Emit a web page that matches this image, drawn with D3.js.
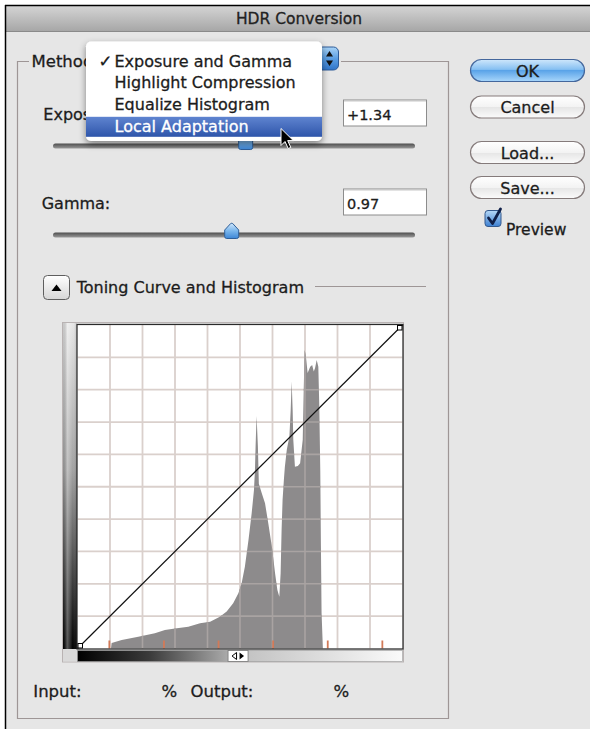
<!DOCTYPE html>
<html><head><meta charset="utf-8">
<script src="https://cdn.jsdelivr.net/npm/d3@7"></script>
<style>html,body{margin:0;padding:0;background:#fff;} svg{display:block;font-family:"DejaVu Sans",sans-serif;}</style>
</head><body>
<svg id="c" width="590" height="729"></svg>
<script>
// ---------- data ----------
const titleText = "HDR Conversion";
const methodItems = ["Exposure and Gamma", "Highlight Compression", "Equalize Histogram", "Local Adaptation"];
const checkedItem = 0;
const highlightedItem = 3;
const exposureValue = 1.34;
const exposureDomain = [-20, 20];
const gammaValue = 0.97;
const gammaDomain = [0.1, 10];
const buttonLabels = ["OK", "Cancel", "Load...", "Save..."];
const gridTicks = [0, 10, 20, 30, 40, 50, 60, 70, 80, 90, 100];
const stopTicks = [9.8, 26.6, 43.4, 60.2, 77.0, 93.8];
const curveIn = [0, 100];
const curveOut = [0, 100];
const gradientHandle = 49.4;
// histogram: input level (%) and bar height (%)
const histX = [10.3,10.5,13.6,18.7,23.8,26.9,30.0,34.1,37.7,40.8,43.8,45.9,47.9,49.5,50.5,51.5,52.6,53.6,54.3,54.6,54.8,55.1,55.5,55.8,56.7,57.7,58.7,59.8,60.8,61.5,62.1,62.5,62.8,63.1,63.5,63.8,64.4,65.2,65.6,65.9,66.2,66.4,66.9,67.8,68.5,69.3,69.6,69.9,70.2,70.4,70.8,71.6,72.2,72.7,73.1,73.6,74.1,74.4,74.7,74.9,75.1,75.5];
const histH = [0,1.7,2.6,3.6,4.7,5.7,6.2,6.7,7.8,8.3,9.8,11.4,14.0,17.1,20.2,25.3,33.5,41.9,49.0,55.2,62.6,71.9,62.6,50.9,48.0,44.9,38.7,31.5,23.2,18.1,16.0,23.3,36.6,45.9,52.1,56.1,61.4,65.5,73.7,82.5,73.7,64.5,56.2,56.4,57.3,64.5,79.9,92.3,90.7,89.2,85.2,87.1,87.6,85.6,86.7,89.2,87.1,74.7,55.2,31.7,11.0,0];

// ---------- setup ----------
const svg = d3.select("#c");
const defs = svg.append("defs");
function grad(id, stops, x2 = 0, y2 = 1) {
  const g = defs.append("linearGradient").attr("id", id)
    .attr("x1", 0).attr("y1", 0).attr("x2", x2).attr("y2", y2);
  stops.forEach(([o, c, op]) => g.append("stop").attr("offset", o).attr("stop-color", c).attr("stop-opacity", op == null ? 1 : op));
}
grad("titleG", [[0, "#d4d4d4"], [1, "#a6a6a6"]]);
grad("blueG", [[0, "#cfe7fb"], [0.45, "#86c0f2"], [0.5, "#5aa3e8"], [1, "#a8d6fb"]]);
grad("whiteG", [[0, "#ffffff"], [0.5, "#f3f3f3"], [0.52, "#e6e6e6"], [1, "#fbfbfb"]]);
grad("trackG", [[0, "#4e4e4e"], [1, "#9a9a9a"]]);
grad("thumbG", [[0, "#cfe6fb"], [0.5, "#7ab6ec"], [1, "#3d86d6"]]);
grad("popG", [[0, "#a9d3f6"], [0.5, "#5b9fe4"], [1, "#2f74c8"]]);
grad("hiG", [[0, "#5f84d0"], [1, "#2e55aa"]]);
grad("discG", [[0, "#ffffff"], [1, "#d6d6d6"]]);
grad("leftBarG", [[0, "#e6e6e6"], [0.45, "#a2a2a2"], [0.8, "#3a3a3a"], [1, "#000000"]]);
grad("leftShadeG", [[0, "#000", 0.12], [0.3, "#fff", 0.35], [0.7, "#fff", 0.0], [1, "#000", 0.2]], 1, 0);
grad("botBarG", [[0, "#000000"], [0.22, "#3a3a3a"], [0.46, "#a9a9a9"], [0.53, "#c4c4c4"], [1, "#fafafa"]], 1, 0);
grad("checkG", [[0, "#b5d8f7"], [1, "#3d80d2"]]);
const sh = defs.append("filter").attr("id", "shadow").attr("x", "-20%").attr("y", "-20%").attr("width", "140%").attr("height", "150%");
sh.append("feDropShadow").attr("dx", 0).attr("dy", 3).attr("stdDeviation", 3.5).attr("flood-color", "#000").attr("flood-opacity", 0.45);

const txtCol = "#1c1c1c";
const boxLine = "#9e9696";

// ---------- window ----------
svg.append("rect").attr("x", 5).attr("y", 5).attr("width", 585).attr("height", 724).attr("fill", "#e6e6e6");
svg.append("rect").attr("x", 6).attr("y", 6).attr("width", 584).attr("height", 25.5).attr("fill", "url(#titleG)");
svg.append("line").attr("x1", 6).attr("x2", 590).attr("y1", 31.5).attr("y2", 31.5).attr("stroke", "#8a8a8a");
svg.append("line").attr("x1", 5).attr("x2", 590).attr("y1", 5.5).attr("y2", 5.5).attr("stroke", "#000").attr("stroke-width", 1.5);
svg.append("line").attr("x1", 5.5).attr("x2", 5.5).attr("y1", 5).attr("y2", 729).attr("stroke", "#000").attr("stroke-width", 1.5);
svg.append("text").attr("x", 299).attr("y", 23.5).attr("text-anchor", "middle").attr("font-size", 15.5).attr("fill", "#222").text(titleText);

// ---------- group box ----------
const gb = svg.append("g").attr("fill", "none").attr("stroke", boxLine).attr("stroke-width", 1.2);
gb.append("path").attr("d", "M29,61.5 H17.5 V718.5 H448.5 V61.5 H341");

svg.append("text").attr("x", 31.5).attr("y", 66.7).attr("font-size", 16.5).attr("fill", txtCol).text("Method:");

// ---------- sliders & inputs ----------
const trackX = [53, 415];
const exposureScale = d3.scaleLinear().domain(exposureDomain).range([60, 408]);
const gammaScale = d3.scaleLog().domain(gammaDomain).range([60, 408]);
function slider(cy, cx) {
  svg.append("rect").attr("x", trackX[0]).attr("y", cy - 2.5).attr("width", trackX[1] - trackX[0]).attr("height", 5)
    .attr("rx", 2.5).attr("fill", "url(#trackG)");
  const top = cy - 12, bot = cy + 3.5;
  svg.append("path").attr("d", `M${cx - 7},${bot - 2} Q${cx - 7},${bot} ${cx - 5},${bot} H${cx + 5} Q${cx + 7},${bot} ${cx + 7},${bot - 2} V${top + 7} L${cx + 1},${top + 0.5} Q${cx},${top} ${cx - 1},${top + 0.5} L${cx - 7},${top + 7} Z`)
    .attr("fill", "url(#thumbG)").attr("stroke", "#2f5f99").attr("stroke-width", 1);
}
function inputBox(y, val) {
  svg.append("rect").attr("x", 343.5).attr("y", y).attr("width", 83).attr("height", 26).attr("fill", "#fff")
    .attr("stroke", "#8c8c8c").attr("stroke-width", 1);
  svg.append("line").attr("x1", 344).attr("x2", 426).attr("y1", y + 1).attr("y2", y + 1).attr("stroke", "#c8c8c8");
  svg.append("text").attr("x", 347).attr("y", y + 19.5).attr("font-size", 14.5).attr("fill", txtCol).text(val);
}
svg.append("text").attr("x", 43.3).attr("y", 120).attr("font-size", 16).attr("fill", txtCol).text("Exposure:");
inputBox(100, (exposureValue > 0 ? "+" : "") + exposureValue.toFixed(2));
slider(146, exposureScale(exposureValue));
svg.append("text").attr("x", 41.7).attr("y", 209).attr("font-size", 16).attr("fill", txtCol).text("Gamma:");
inputBox(189, gammaValue.toFixed(2));
slider(235, gammaScale(gammaValue));

// ---------- buttons ----------
const btnY = [59.5, 96, 141.5, 176.5];
buttonLabels.forEach((lab, i) => {
  svg.append("rect").attr("x", 470.5).attr("y", btnY[i]).attr("width", 114).attr("height", 22).attr("rx", 11)
    .attr("fill", i === 0 ? "url(#blueG)" : "url(#whiteG)")
    .attr("stroke", i === 0 ? "#44679c" : "#857b7b").attr("stroke-width", 1.2);
  svg.append("text").attr("x", 527.5).attr("y", btnY[i] + 17).attr("text-anchor", "middle").attr("font-size", 16)
    .attr("fill", txtCol).text(lab);
});
svg.append("rect").attr("x", 485).attr("y", 210.5).attr("width", 16).attr("height", 16).attr("rx", 3)
  .attr("fill", "url(#checkG)").attr("stroke", "#35598c");
svg.append("path").attr("d", "M488.5,218 L492.5,223.5 L500.5,209").attr("fill", "none").attr("stroke", "#0f1f48")
  .attr("stroke-width", 2.8).attr("stroke-linecap", "round").attr("stroke-linejoin", "round");
svg.append("text").attr("x", 506).attr("y", 234.5).attr("font-size", 15.5).attr("fill", txtCol).text("Preview");

// ---------- toning disclosure ----------
svg.append("rect").attr("x", 43.5).attr("y", 275.5).attr("width", 26).attr("height", 24).attr("rx", 4)
  .attr("fill", "url(#discG)").attr("stroke", "#5e5e5e");
svg.append("path").attr("d", "M51.5,291 L56.5,284.5 L61.5,291 Z").attr("fill", "#000");
svg.append("text").attr("x", 76.7).attr("y", 292.7).attr("font-size", 16).attr("fill", txtCol).text("Toning Curve and Histogram");
svg.append("line").attr("x1", 315).attr("x2", 426).attr("y1", 286.5).attr("y2", 286.5).attr("stroke", boxLine).attr("stroke-width", 1.2);

// ---------- histogram plot ----------
const x = d3.scaleLinear().domain([0, 100]).range([77.5, 402.5]);
const y = d3.scaleLinear().domain([0, 100]).range([648.5, 325]);
svg.append("rect").attr("x", 62.5).attr("y", 322.5).attr("width", 341).attr("height", 339.5)
  .attr("fill", "#dcdcdc").attr("stroke", "#b9b3b3");
svg.append("rect").attr("x", 63).attr("y", 323).attr("width", 14).attr("height", 326).attr("fill", "url(#leftBarG)");
svg.append("rect").attr("x", 63).attr("y", 323).attr("width", 14).attr("height", 326).attr("fill", "url(#leftShadeG)");
svg.append("rect").attr("x", 63).attr("y", 650).attr("width", 14).attr("height", 11.5).attr("fill", "#dadada");
svg.append("rect").attr("x", x(0)).attr("y", y(100) - 1).attr("width", x(100) - x(0)).attr("height", y(0) - y(100) + 1).attr("fill", "#ffffff");

const grid = svg.append("g");
function drawGrid(g, col, w) {
  g.selectAll(".v").data(gridTicks.slice(1, -1)).join("line").attr("class", "v")
    .attr("x1", d => x(d)).attr("x2", d => x(d)).attr("y1", y(100)).attr("y2", y(0))
    .attr("stroke", col).attr("stroke-width", w);
  g.selectAll(".h").data(gridTicks.slice(1, -1)).join("line").attr("class", "h")
    .attr("y1", d => y(d)).attr("y2", d => y(d)).attr("x1", x(0)).attr("x2", x(100))
    .attr("stroke", col).attr("stroke-width", w);
}
drawGrid(grid, "#dad0cc", 1.8);

const histData = histX.map((v, i) => ({ v, h: histH[i] }));
const area = d3.area().x(d => x(d.v)).y0(y(0)).y1(d => y(d.h));
svg.append("path").attr("d", area(histData)).attr("fill", "#8d8b8c");
defs.append("clipPath").attr("id", "histClip").append("path").attr("d", area(histData));
const grid2 = svg.append("g").attr("clip-path", "url(#histClip)");
drawGrid(grid2, "#a9a3a2", 1.6);

svg.append("g").selectAll("line").data(stopTicks).join("line")
  .attr("x1", d => x(d)).attr("x2", d => x(d)).attr("y1", y(0)).attr("y2", y(0) - 8)
  .attr("stroke", "#d27a58").attr("stroke-width", 1.8);

// plot frame
svg.append("rect").attr("x", x(0) - 0.5).attr("y", y(100) - 0.5).attr("width", x(100) - x(0) + 1).attr("height", y(0) - y(100) + 1)
  .attr("fill", "none").attr("stroke", "#2a2a2a").attr("stroke-width", 1.2);

// toning curve
const curve = curveIn.map((v, i) => [x(v), y(curveOut[i])]);
svg.append("path").attr("d", d3.line()(curve)).attr("fill", "none").attr("stroke", "#111").attr("stroke-width", 1.2);
svg.append("rect").attr("x", x(curveIn[0]) + 0.5).attr("y", y(curveOut[0]) - 5).attr("width", 4.5).attr("height", 4.5)
  .attr("fill", "#fff").attr("stroke", "#000").attr("stroke-width", 1);
svg.append("rect").attr("x", x(curveIn[1]) - 5).attr("y", y(curveOut[1]) + 0.5).attr("width", 4.5).attr("height", 4.5)
  .attr("fill", "#fff").attr("stroke", "#000").attr("stroke-width", 1);

// bottom gradient bar
svg.append("rect").attr("x", x(0)).attr("y", 650.5).attr("width", x(100) - x(0)).attr("height", 11)
  .attr("fill", "url(#botBarG)").attr("stroke", "#9a9a9a").attr("stroke-width", 0.6);
const hx = x(gradientHandle);
svg.append("rect").attr("x", hx - 10).attr("y", 650.5).attr("width", 20).attr("height", 11)
  .attr("fill", "#fff").attr("stroke", "#777").attr("stroke-width", 0.8);
svg.append("path").attr("d", `M${hx - 1.5},652.5 L${hx - 6},656 L${hx - 1.5},659.5 Z`).attr("fill", "#fff").attr("stroke", "#000").attr("stroke-width", 1);
svg.append("path").attr("d", `M${hx + 1.5},652.5 L${hx + 6},656 L${hx + 1.5},659.5 Z`).attr("fill", "#000");

// ---------- input / output ----------
svg.append("text").attr("x", 33.3).attr("y", 697.3).attr("font-size", 16.5).attr("fill", txtCol).text("Input:");
svg.append("text").attr("x", 161.5).attr("y", 697.3).attr("font-size", 16.5).attr("fill", txtCol).text("%");
svg.append("text").attr("x", 190.5).attr("y", 697.3).attr("font-size", 16.5).attr("fill", txtCol).text("Output:");
svg.append("text").attr("x", 333.5).attr("y", 697.3).attr("font-size", 16.5).attr("fill", txtCol).text("%");

// ---------- popup button + menu ----------
svg.append("rect").attr("x", 300).attr("y", 47).attr("width", 38.5).attr("height", 23).attr("rx", 5)
  .attr("fill", "url(#popG)").attr("stroke", "#2d5b98");
svg.append("path").attr("d", "M326,56.5 L329.5,51 L333,56.5 Z M326,60.5 L329.5,66 L333,60.5 Z").attr("fill", "#111");

const menu = svg.append("g");
menu.append("rect").attr("x", 86).attr("y", 41.5).attr("width", 236).attr("height", 99.5).attr("rx", 5)
  .attr("fill", "#ffffff").attr("filter", "url(#shadow)");
const itemBase = 66.7, itemStep = 21.7;
menu.append("rect").attr("x", 86).attr("y", itemBase + highlightedItem * itemStep - 15).attr("width", 236).attr("height", 20)
  .attr("fill", "url(#hiG)");
menu.selectAll(".it").data(methodItems).join("text").attr("class", "it")
  .attr("x", 114.5).attr("y", (d, i) => itemBase + i * itemStep).attr("font-size", 16)
  .attr("fill", (d, i) => i === highlightedItem ? "#ffffff" : txtCol).text(d => d);
menu.append("text").attr("x", 98.5).attr("y", itemBase + checkedItem * itemStep).attr("font-size", 16.5).attr("fill", txtCol).text("\u2713");

// cursor
const cx0 = 281, cy0 = 128.5;
svg.append("path")
  .attr("d", `M${cx0},${cy0} v17 l4,-4 l3.2,7 l2.6,-1.1 l-3.1,-6.8 h5.6 Z`)
  .attr("fill", "#000").attr("stroke", "#fff").attr("stroke-width", 1).attr("stroke-linejoin", "round");

// slightly heavier text like the original UI font
svg.selectAll("text").each(function () {
  const t = d3.select(this);
  t.attr("stroke", t.attr("fill")).attr("stroke-width", 0.3);
});
</script></body></html>
